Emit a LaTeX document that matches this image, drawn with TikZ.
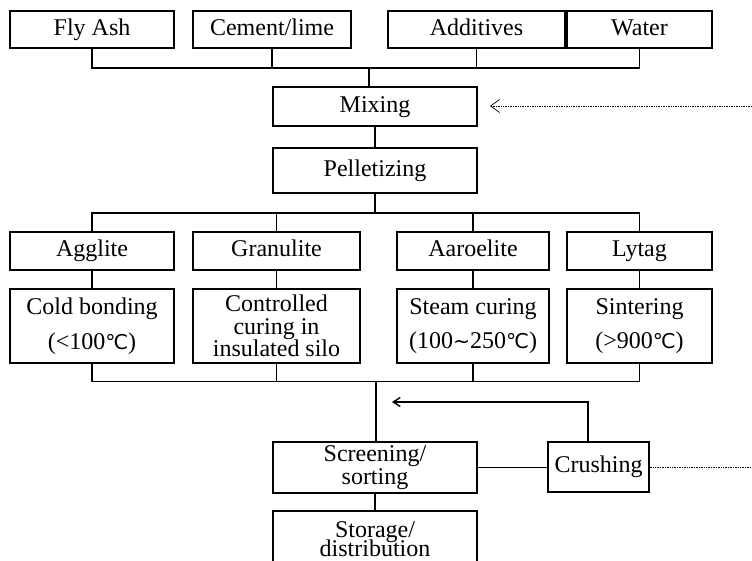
\documentclass[tikz,border=0pt]{standalone}
\usepackage{fontspec}
\setmainfont{Liberation Serif}
\newfontfamily\symfont[Scale=0.85]{DejaVu Sans}
\usepackage{tikz}
\usetikzlibrary{arrows.meta}
\newcommand{\degc}{{\symfont ℃}}
\newcommand{\wave}{{\symfont ∼}}

\begin{document}
\begin{tikzpicture}[x=1pt,y=-1pt,>={Straight Barb[length=7pt,width=9pt]},line width=1.4pt,
        font=\fontsize{24}{22.5}\selectfont]
        \tikzstyle{box}=[draw,align=center,inner sep=0pt,minimum height=38pt]
        \tikzstyle{oneline}=[text height=16pt,text depth=5pt]
        \useasboundingbox (0,0) rectangle (752,560);
        \node[box,oneline,minimum width=164pt,minimum height=37pt] (fa) at (92,29.5) {Fly Ash};
        \node[box,oneline,minimum width=158pt,minimum height=37pt] (cl) at (272,29.5) {Cement/lime};
        \node[box,oneline,minimum width=177pt,minimum height=37pt] (ad) at (476.5,29.5) {Additives};
        \node[box,oneline,minimum width=145pt,minimum height=37pt] (wa) at (639.5,29.5) {Water};
        \node[box,oneline,minimum width=204pt,minimum height=39pt] (mx) at (375,106.5) {Mixing};
        \node[box,oneline,minimum width=204pt,minimum height=45pt] (pl) at (375,170.5) {Pelletizing};
        \node[box,oneline,minimum width=164pt] (ag) at (92,251) {Agglite};
        \node[box,oneline,minimum width=167pt] (gr) at (276.5,251) {Granulite};
        \node[box,oneline,minimum width=152pt] (ar) at (473,251) {Aaroelite};
        \node[box,oneline,minimum width=145pt] (ly) at (639.5,251) {Lytag};
        \node[box,minimum width=164pt,minimum height=74pt] (cb) at (92,326) {Cold bonding\\[12pt](<100\degc)};
        \node[box,minimum width=167pt,minimum height=74pt] (cc) at (276.5,326) {Controlled\\curing in\\insulated silo};
        \node[box,minimum width=152pt,minimum height=74pt] (st) at (473,326) {Steam curing\\[12pt](100\wave250\degc)};
        \node[box,minimum width=145pt,minimum height=74pt] (si) at (639.5,326) {Sintering\\[12pt](>900\degc)};
        \node[box,minimum width=204pt,minimum height=51pt] (sc) at (375,467.5) {Screening/\\sorting};
        \node[box,oneline,minimum width=101pt,minimum height=50pt] (cr) at (598.5,467) {Crushing};
        \node[box,minimum width=204pt,minimum height=56pt] (sg) at (375,539) {Storage/\\[-3pt]distribution};
        \coordinate (j1) at (369,68);
        \coordinate (j2) at (377,213);
        \coordinate (j3) at (376,381.5);
        \coordinate (fb) at (392,402);
        \coordinate (fbc) at (588,402);
        \coordinate (mxin) at (490,106);
        \coordinate (mxout) at (752,106);
        \coordinate (crout) at (752,465);
    \draw (fa.south) |- (j1) -| (wa.south);
    \draw (cl.south) -- (cl.south |- j1);
    \draw (ad.south) -- (ad.south |- j1);
    \draw (j1) -- (j1 |- mx.north);
    \draw (mx) -- (pl);
    \draw (pl.south) -- (pl.south |- j2);
    \draw (ag.north) |- (j2) -| (ly.north);
    \draw (gr.north) -- (gr.north |- j2);
    \draw (ar.north) -- (ar.north |- j2);
    \draw (ag) -- (cb);
    \draw (gr) -- (cc);
    \draw (ar) -- (st);
    \draw (ly) -- (si);
    \draw (cb.south) |- (j3) -| (si.south);
    \draw (cc.south) -- (cc.south |- j3);
    \draw (st.south) -- (st.south |- j3);
    \draw (j3) -- (j3 |- sc.north);
    \draw (sc) -- (sg);
    \draw (sc.east) -- (sc.east -| cr.west);
    \draw[<-] (fb) -- (fbc) -- (fbc |- cr.north);
    \draw[<-,densely dotted,line width=0.7pt,>={Straight Barb[length=9pt,width=13pt]}] (mxin) -- (mxout);
    \draw[densely dotted,line width=0.7pt] (cr.east) -- (cr.east -| crout);
\end{tikzpicture}
\end{document}
